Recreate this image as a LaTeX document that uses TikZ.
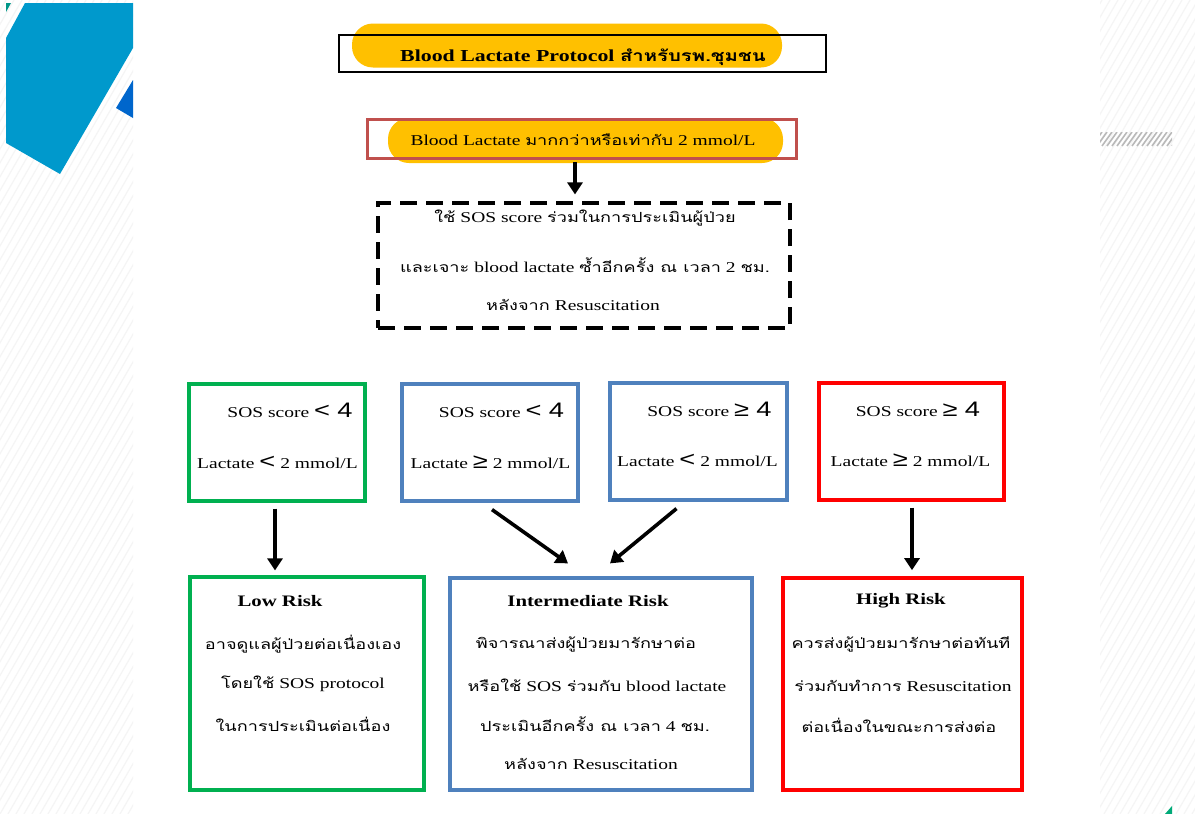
\documentclass[tikz,border=0pt]{standalone}
\usepackage{fontspec}
\setmainfont[FakeStretch=1.3]{Liberation Serif}
\newfontfamily\thaif[Script=Thai,FakeStretch=1.3,Scale=0.93]{Loma}
\newfontfamily\symf[FakeStretch=1.3]{Liberation Sans}
\newcommand\thx[1]{{\thaif #1}}
\newcommand\sy[1]{{\symf\fontsize{21}{21}\selectfont #1}}
\usetikzlibrary{arrows.meta}
\definecolor{cgreen}{RGB}{0,176,80}
\definecolor{cblue}{RGB}{79,129,189}
\definecolor{cred}{RGB}{255,0,0}
\definecolor{cbrown}{RGB}{192,80,77}
\definecolor{cyel}{RGB}{255,192,0}
\definecolor{dblue}{RGB}{0,153,204}
\definecolor{ddblue}{RGB}{0,102,204}
\definecolor{cteal}{RGB}{0,150,136}
\definecolor{cgreen2}{RGB}{0,170,120}
\tikzset{
  pill/.style={fill=cyel, rounded corners=21pt, inner sep=0pt},
  framebox/.style={draw, line width=3.2pt, inner sep=0pt},
  txt/.style={inner sep=0pt, font=\fontsize{15}{17}\selectfont},
  btxt/.style={inner sep=0pt, font=\fontsize{16}{18}\selectfont\bfseries},
  arr/.style={line width=3.6pt, -{Triangle[width=15pt,length=12pt]}},
}
\begin{document}
\begin{tikzpicture}[x=1pt,y=-1pt]
\useasboundingbox (0,0) rectangle (1195,814);
\fill[white] (0,0) rectangle (1195,814);
% faint background stripes in the margins
\begin{scope}
  \clip (0,0) rectangle (133,814) (1100,0) rectangle (1195,814);
  \foreach \i in {-60,...,150} { \draw[black!4, line width=1.2pt] (\i*8,814) -- ++(470,-814); }
\end{scope}
% left decoration
\fill[dblue] (25,3) -- (133,3) -- (133,48) -- (60,174) -- (6,143) -- (6,38) -- cycle;
\fill[ddblue] (133,80) -- (116,108) -- (133,118) -- cycle;
\fill[cteal] (6,3) -- (11,3) -- (6,12) -- cycle;
% right hatched bar
\begin{scope}
  \clip (1100,132) rectangle (1172,146);
  \foreach \i in {0,...,17} { \draw[gray!55, line width=1.6pt] (1092+\i*5,146) -- ++(10,-14); }
\end{scope}
\fill[cgreen2] (1172,806) -- (1172,814) -- (1165,814) -- cycle;

% title
\node[pill, minimum width=430pt, minimum height=44pt] (tp) at (567,45.5) {};
\node[framebox, draw=black, line width=2.8pt, minimum width=487pt, minimum height=37pt] (t) at (582.5,53.5) {};
\node[btxt, font=\fontsize{16.8}{18}\selectfont\bfseries] (tt) at (583,57) {Blood Lactate Protocol \thx{สำหรับรพ.ชุมชน}};

% lactate >= 2
\node[pill, minimum width=395pt, minimum height=45pt] (bp) at (585.5,140.5) {};
\node[framebox, draw=cbrown, minimum width=429pt, minimum height=39pt] (b) at (582,139) {};
\node[txt] (bt) at (583,140) {Blood Lactate \thx{มากกว่าหรือเท่ากับ} 2 mmol/L};

% dashed box
\node[framebox, draw=black, dash pattern=on 17pt off 9pt, minimum width=412pt, minimum height=125pt] (d) at (584,265.5) {};
\node[txt] (d1) at (585,218) {\thx{ใช้} SOS score \thx{ร่วมในการประเมินผู้ป่วย}};
\node[txt] (d2) at (585,265) {\thx{และเจาะ} blood lactate \thx{ซ้ำอีกครั้ง ณ เวลา} 2 \thx{ชม.}};
\node[txt] (d3) at (573,305) {\thx{หลังจาก} Resuscitation};

% condition boxes
\node[framebox, draw=cgreen, minimum width=176pt, minimum height=117pt] (c1) at (277,442.5) {};
\node[framebox, draw=cblue, minimum width=176pt, minimum height=117pt] (c2) at (490,442.5) {};
\node[framebox, draw=cblue, minimum width=177pt, minimum height=117pt] (c3) at (698.5,441.5) {};
\node[framebox, draw=cred, minimum width=185pt, minimum height=117pt] (c4) at (911.5,441.5) {};

\node[txt] (c1a) at (290,410) {SOS score \sy{<}\, \sy{4}};
\node[txt] (c1b) at (277.5,462) {Lactate \sy{<} 2 mmol/L};
\node[txt] (c2a) at (501.5,410) {SOS score \sy{<}\, \sy{4}};
\node[txt] (c2b) at (490.5,462) {Lactate \sy{≥} 2 mmol/L};
\node[txt] (c3a) at (709.5,409) {SOS score \sy{≥}\, \sy{4}};
\node[txt] (c3b) at (697.5,460) {Lactate \sy{<} 2 mmol/L};
\node[txt] (c4a) at (918,409) {SOS score \sy{≥}\, \sy{4}};
\node[txt] (c4b) at (910.5,460) {Lactate \sy{≥} 2 mmol/L};

% risk boxes
\node[framebox, draw=cgreen, minimum width=234pt, minimum height=213pt] (low) at (307,683.5) {};
\node[framebox, draw=cblue, minimum width=302pt, minimum height=212pt] (mid) at (601,684) {};
\node[framebox, draw=cred, line width=3.6pt, minimum width=239pt, minimum height=212pt] (high) at (902.5,684) {};

\node[btxt] (l0) at (280,601) {Low Risk};
\node[txt] (l1) at (303,644) {\thx{อาจดูแลผู้ป่วยต่อเนื่องเอง}};
\node[txt] (l2) at (303,684) {\thx{โดยใช้} SOS protocol};
\node[txt] (l3) at (303,724) {\thx{ในการประเมินต่อเนื่อง}};

\node[btxt] (m0) at (588,601) {Intermediate Risk};
\node[txt] (m1) at (586,644) {\thx{พิจารณาส่งผู้ป่วยมารักษาต่อ}};
\node[txt] (m2) at (597,685) {\thx{หรือใช้} SOS \thx{ร่วมกับ} blood lactate};
\node[txt] (m3) at (595,724) {\thx{ประเมินอีกครั้ง ณ เวลา} 4 \thx{ชม.}};
\node[txt] (m4) at (591,764) {\thx{หลังจาก} Resuscitation};

\node[btxt] (h0) at (901,601) {High Risk};
\node[txt] (h1) at (901,644) {\thx{ควรส่งผู้ป่วยมารักษาต่อทันที}};
\node[txt] (h2) at (903,686) {\thx{ร่วมกับทำการ} Resuscitation};
\node[txt] (h3) at (899,725) {\thx{ต่อเนื่องในขณะการส่งต่อ}};

% connectors
\draw[arr] ([shift={(-7,2)}]b.south) -- ([shift={(-9,-7)}]d.north);
\draw[arr] ([shift={(-2,6)}]c1.south) -- ([shift={(-32,-5)}]low.north);
\draw[arr] ([shift={(2,7)}]c2.south) -- ([shift={(-33,-13)}]mid.north);
\draw[arr] ([shift={(-22,7)}]c3.south) -- ([shift={(9,-13)}]mid.north);
\draw[arr] ([shift={(0.5,6)}]c4.south) -- ([shift={(9.5,-6)}]high.north);
\end{tikzpicture}
\end{document}
